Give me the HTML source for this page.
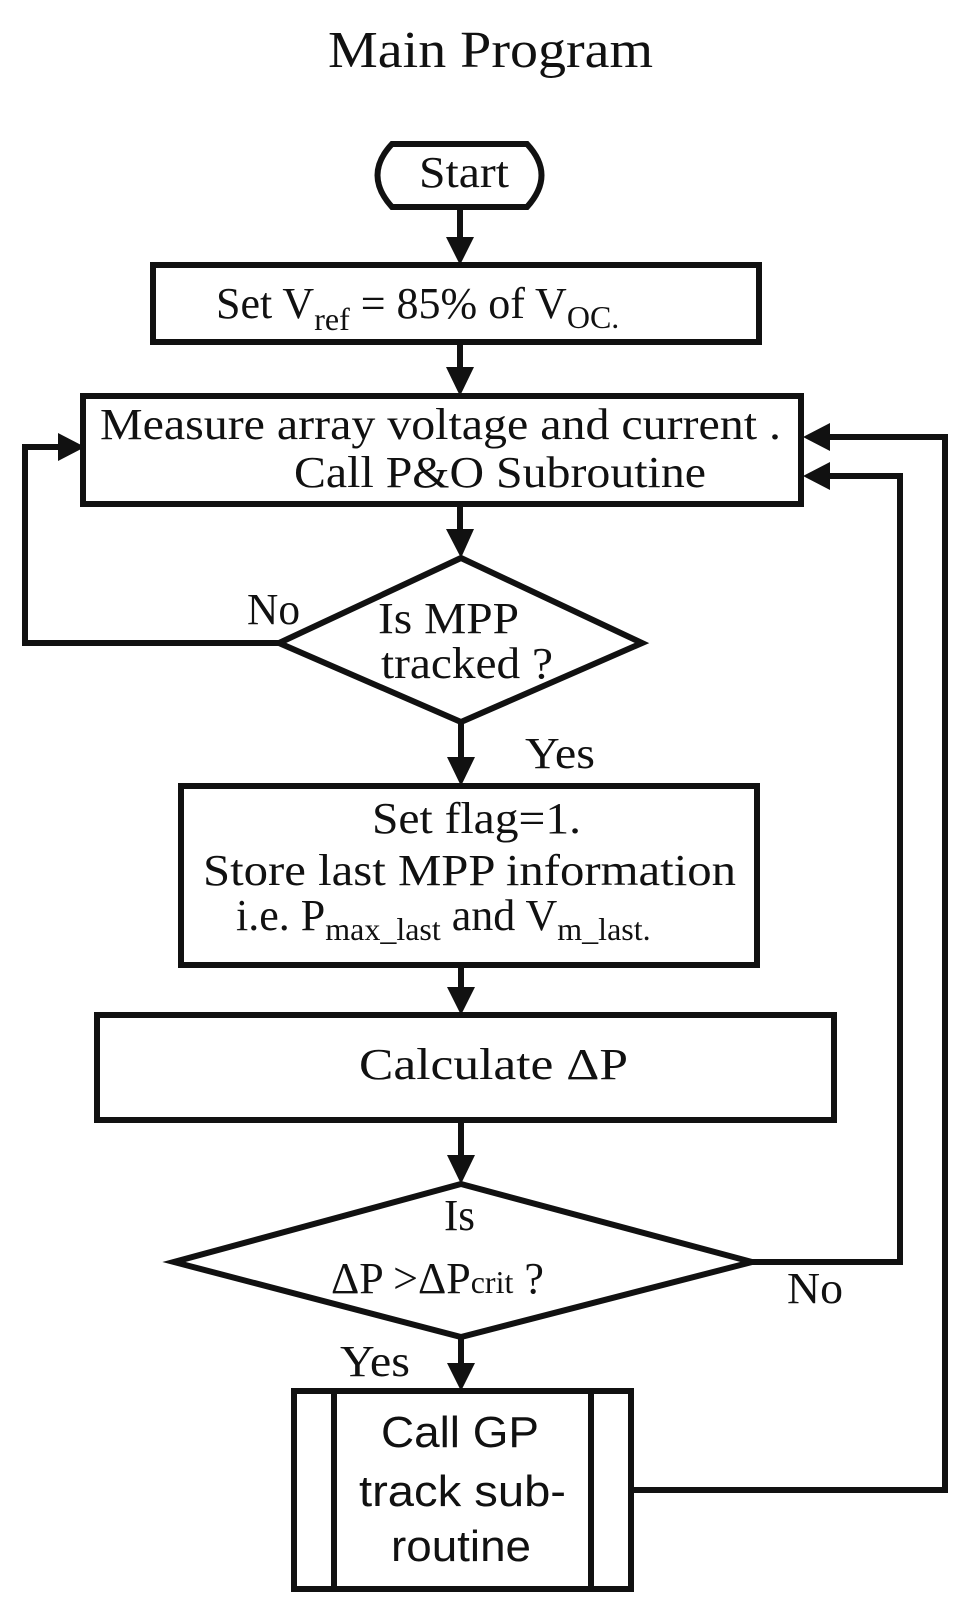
<!DOCTYPE html>
<html><head><style>html,body{margin:0;padding:0;background:#fff}svg{display:block}</style></head>
<body>
<svg width="975" height="1615" viewBox="0 0 975 1615" xmlns="http://www.w3.org/2000/svg" font-family="'Liberation Serif',serif" fill="#111">
<text x="328" y="67" font-size="52" textLength="325" lengthAdjust="spacingAndGlyphs">Main Program</text>
<g fill="none" stroke="#111" stroke-width="6" stroke-linejoin="miter">
<!-- start -->
<path d="M392,144 H527 Q556,175 527,207 H392 Q363,175 392,144 Z"/>
<rect x="153" y="265" width="606" height="77"/>
<rect x="83" y="396" width="718" height="108"/>
<path d="M461,558 L642,643 L461,722 L279,643 Z"/>
<rect x="181" y="786" width="576" height="179"/>
<rect x="97" y="1015" width="737" height="105"/>
<path d="M461,1184 L752,1262 L461,1337 L174,1262 Z"/>
<rect x="294" y="1391" width="337" height="198"/>
<line x1="334" y1="1391" x2="334" y2="1589"/>
<line x1="591" y1="1391" x2="591" y2="1589"/>
<!-- connectors -->
<line x1="460" y1="207" x2="460" y2="240"/>
<line x1="460" y1="342" x2="460" y2="370"/>
<line x1="460" y1="504" x2="460" y2="532"/>
<line x1="461" y1="722" x2="461" y2="760"/>
<line x1="461" y1="965" x2="461" y2="990"/>
<line x1="461" y1="1120" x2="461" y2="1158"/>
<line x1="461" y1="1337" x2="461" y2="1366"/>
<polyline points="279,643 25,643 25,447 60,447"/>
<polyline points="752,1262 900,1262 900,476 830,476"/>
<polyline points="631,1490 945,1490 945,437 830,437"/>
</g>
<g fill="#111">
<polygon points="446,237 474,237 460,265"/>
<polygon points="446,367 474,367 460,396"/>
<polygon points="446,529 474,529 461,558"/>
<polygon points="447,757 475,757 461,786"/>
<polygon points="447,987 475,987 461,1015"/>
<polygon points="447,1155 475,1155 461,1184"/>
<polygon points="447,1363 475,1363 461,1391"/>
<polygon points="58,433 58,461 85,447"/>
<polygon points="830,423 830,451 803,437"/>
<polygon points="830,462 830,490 803,476"/>
</g>
<g font-size="44">
<text x="419" y="187" textLength="90" lengthAdjust="spacingAndGlyphs">Start</text>
<text x="216" y="318">Set V<tspan font-size="32" dy="12">ref</tspan><tspan dy="-12"> = 85% of V</tspan><tspan font-size="32" dy="10">OC.</tspan></text>
<text x="100" y="439" textLength="681" lengthAdjust="spacingAndGlyphs">Measure array voltage and current .</text>
<text x="294" y="487" textLength="412" lengthAdjust="spacingAndGlyphs">Call P&amp;O Subroutine</text>
<text x="247" y="624" textLength="53" lengthAdjust="spacingAndGlyphs">No</text>
<text x="378" y="633" textLength="141" lengthAdjust="spacingAndGlyphs">Is MPP</text>
<text x="381" y="678" textLength="172" lengthAdjust="spacingAndGlyphs">tracked ?</text>
<text x="525" y="768" textLength="70" lengthAdjust="spacingAndGlyphs">Yes</text>
<text x="372" y="833" textLength="209" lengthAdjust="spacingAndGlyphs">Set flag=1.</text>
<text x="203" y="885" textLength="533" lengthAdjust="spacingAndGlyphs">Store last MPP information</text>
<text x="236" y="930">i.e. P<tspan font-size="32" dy="10">max_last</tspan><tspan dy="-10"> and V</tspan><tspan font-size="32" dy="10">m_last.</tspan></text>
<text x="359" y="1079" textLength="269" lengthAdjust="spacingAndGlyphs">Calculate  ΔP</text>
<text x="444" y="1230" textLength="31" lengthAdjust="spacingAndGlyphs">Is</text>
<text x="331" y="1293">ΔP  &gt;ΔP<tspan font-size="32">crit</tspan> ?</text>
<text x="787" y="1303" textLength="56" lengthAdjust="spacingAndGlyphs">No</text>
<text x="340" y="1376" textLength="70" lengthAdjust="spacingAndGlyphs">Yes</text>
</g>
<g font-family="'Liberation Sans',sans-serif" font-size="44">
<text x="381" y="1447" textLength="158" lengthAdjust="spacingAndGlyphs">Call GP</text>
<text x="359" y="1506" textLength="207" lengthAdjust="spacingAndGlyphs">track sub-</text>
<text x="391" y="1561" textLength="140" lengthAdjust="spacingAndGlyphs">routine</text>
</g>
</svg>
</body></html>
